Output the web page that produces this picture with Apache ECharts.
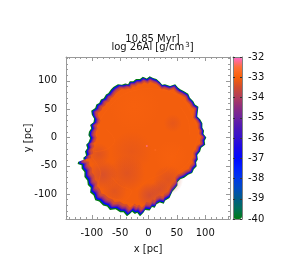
<!DOCTYPE html>
<html><head><meta charset="utf-8">
<style>html,body{margin:0;padding:0;background:#fff}#c{width:295px;height:276px}</style>
<script src="https://cdn.jsdelivr.net/npm/echarts@6/dist/echarts.min.js"></script>
</head><body><div id="c"></div>
<script>
// Data (pc, log density)
const xMajor=[-100,-50,0,50,100];
const yMajor=[-100,-50,0,50,100];
const xMinor=[-140,-130,-120,-110,-90,-80,-70,-60,-40,-30,-20,-10,10,20,30,40,60,70,80,90,110,120,130,140];
const yMinor=[-140,-130,-120,-110,-90,-80,-70,-60,-40,-30,-20,-10,10,20,30,40,60,70,80,90,110,120,130,140];
const outline=[[-106,-9],[-103,-1],[-106,4],[-105,10],[-101,16],[-103,22],[-97,27],[-96,33],[-100,40],[-101,47],[-94,52],[-92,58],[-87,61],[-84,67],[-79,69],[-75,76],[-71,78],[-66,85],[-62,89],[-54,94],[-47,93],[-41,95],[-36,94],[-33,99],[-27,99],[-22,103],[-15,103],[-10,107],[-3,104],[2,108],[8,105],[14,103],[20,98],[24,93],[29,94],[38,91],[47,94],[52,88],[56,85],[62,82],[70,77],[73,70],[79,64],[82,58],[88,54],[87,46],[86,37],[91,32],[95,25],[95,17],[98,12],[97,6],[102,0],[99,-6],[100,-13],[93,-18],[91,-25],[86,-31],[87,-39],[84,-44],[85,-51],[80,-56],[77,-63],[70,-66],[63,-71],[56,-74],[51,-79],[51,-85],[47,-90],[42,-96],[37,-107],[29,-112],[27,-117],[20,-115],[14,-118],[11,-124],[6,-123],[2,-129],[-6,-128],[-9,-133],[-15,-139],[-20,-133],[-24,-135],[-29,-131],[-33,-135],[-38,-139],[-44,-132],[-50,-132],[-58,-127],[-68,-128],[-73,-122],[-80,-120],[-87,-113],[-94,-111],[-97,-102],[-103,-97],[-102,-89],[-107,-84],[-108,-76],[-113,-70],[-113,-61],[-118,-55],[-118,-49],[-125,-47],[-124,-43],[-114,-42],[-115,-36],[-110,-32],[-112,-25],[-108,-19],[-110,-13]];
const shellValues=[-40,-37,-35.5,-34.6,-34,-33.5,-33.06];
const shellScales=[1,0.983,0.968,0.956,0.942,0.926,0.9];
const patchValues=[-33.7,-33.8,-33.5,-33.5,-33.5,-33.35,-33.45,-33.3,-33.6,-32.95,-32.95];
const patchX=[-80,2,-38,-88,35,43,-60,-30,20,-25,40];
const patchY=[-66,-102,-63,-30,-75,25,-95,-25,-92,55,-35];
const patchR=[26,22,32,20,26,16,22,36,18,45,30];
const filamentValues=[-32.9,-32.9,-32.9,-32.9,-32.95,-32.9,-32.9];
const filaments=[
 [[-92,0],[-88,25],[-72,50],[-50,72],[-20,84],[15,85],[45,78],[65,62],[78,35]],
 [[78,35],[88,8],[80,-20],[70,-45],[50,-62]],
 [[-100,-35],[-85,-60],[-88,-85],[-70,-105],[-45,-112],[-20,-122]],
 [[-95,-25],[-72,-20],[-60,-5],[-75,15]],
 [[-25,-95],[0,-75],[30,-60],[45,-40],[55,-15]],
 [[-45,-115],[-30,-95],[-50,-85],[-65,-70]],
 [[55,55],[70,30],[72,5]]
];
const spotValues=[-32.3,-32.8];
const spotX=[-3,12];
const spotY=[-15,-22];
const barColors=['#007a14','#00705a','#005c88','#004cc0','#0038e8','#0020ff','#0008ff','#1a08e8','#3410d0','#4c18b8','#6c22a0','#8c2c80','#b03c5c','#d04c30','#f86008','#ff7038','#ff68d0'];

const GREY='#999999';
const TEXT='#111';
function xAxes(){
 const make=(pos,vals,len,label)=>Object.assign({type:'value',min:-145.5,max:143.7,gridIndex:0,splitLine:{show:false},position:pos,axisLine:{show:label||pos==='top'&&len===4,onZero:false,lineStyle:{color:GREY}},axisTick:{show:true,inside:true,length:len,customValues:vals,lineStyle:{color:GREY}},axisLabel:label?{show:true,customValues:xMajor,color:TEXT,fontSize:10,fontFamily:'DejaVu Sans',margin:9}:{show:false}},label?{name:'x [pc]',nameLocation:'middle',nameGap:25,nameMoveOverlap:false,nameTextStyle:{color:TEXT,fontSize:10,fontFamily:'DejaVu Sans'}}:{});
 return [make('bottom',xMajor,4,true),make('bottom',xMinor,2,false),make('top',xMajor,4,false),make('top',xMinor,2,false)];
}
function yAxes(){
 const make=(pos,vals,len,label)=>Object.assign({type:'value',min:-144,max:142,gridIndex:0,splitLine:{show:false},position:pos,axisLine:{show:label||pos==='right'&&len===4,onZero:false,lineStyle:{color:GREY}},axisTick:{show:true,inside:true,length:len,customValues:vals,lineStyle:{color:GREY}},axisLabel:label?{show:true,customValues:yMajor,color:TEXT,fontSize:10,fontFamily:'DejaVu Sans',margin:9}:{show:false}},label?{name:'y [pc]',nameLocation:'middle',nameGap:33,nameMoveOverlap:false,nameRotate:90,nameTextStyle:{color:TEXT,fontSize:10,fontFamily:'DejaVu Sans'}}:{});
 return [make('left',yMajor,4,true),make('left',yMinor,2,false),make('right',yMajor,4,false),make('right',yMinor,2,false)];
}
const scaleCentre=[15,10];
const barAxisStyle={show:true,onZero:false,lineStyle:{color:'#808080'}};
const option={
 animation:false,
 backgroundColor:'#fff',
 textStyle:{fontFamily:'DejaVu Sans'},
 title:[
  {text:'10.85 Myr]',left:147.5,top:29,textAlign:'center',textStyle:{fontSize:10,fontWeight:'normal',color:TEXT,fontFamily:'DejaVu Sans'}},
  {text:'log 26Al [g/cm{s|3}]',left:147.5,top:37,textAlign:'center',textStyle:{fontSize:10,fontWeight:'normal',color:TEXT,fontFamily:'DejaVu Sans',rich:{s:{fontSize:7,verticalAlign:'top',color:TEXT,fontFamily:'DejaVu Sans',padding:[0,0,0,1]}}}}
 ],
 grid:[{left:66,right:65,top:57,bottom:57},{left:233,width:9,top:57,height:162}],
 xAxis:[...xAxes(),
  {type:'value',gridIndex:1,min:0,max:1,position:'bottom',z:10,axisLine:barAxisStyle,axisTick:{show:false},axisLabel:{show:false},splitLine:{show:false}},
  {type:'value',gridIndex:1,min:0,max:1,position:'top',z:10,axisLine:barAxisStyle,axisTick:{show:false},axisLabel:{show:false},splitLine:{show:false}}],
 yAxis:[...yAxes(),
  {type:'value',gridIndex:1,min:-40,max:-32,interval:1,position:'right',z:10,axisLine:barAxisStyle,axisTick:{show:true,inside:true,length:2,lineStyle:{color:'#333'}},axisLabel:{color:TEXT,fontSize:10,fontFamily:'DejaVu Sans',margin:6},splitLine:{show:false}},
  {type:'value',gridIndex:1,min:-40,max:-32,interval:1,position:'left',z:10,axisLine:barAxisStyle,axisTick:{show:true,inside:true,length:2,lineStyle:{color:'#333'}},axisLabel:{show:false},splitLine:{show:false}}],
 visualMap:{type:'continuous',min:-40,max:-32,dimension:0,seriesIndex:[0,1,2,3],left:233,top:57,itemWidth:9,itemHeight:162,padding:0,calculable:false,showLabel:false,text:null,realtime:false,z:1,inRange:{color:barColors}},
 series:[
  {type:'custom',name:'shells',xAxisIndex:0,yAxisIndex:0,encode:{x:-1,y:-1},
   data:shellValues.map((v,i)=>[v,shellScales[i]]),
   renderItem(params,api){
    const s=api.value(1);
    const pts=outline.map(p=>api.coord([scaleCentre[0]+(p[0]-scaleCentre[0])*s,scaleCentre[1]+(p[1]-scaleCentre[1])*s]));
    return {type:'polygon',shape:{points:pts},style:{fill:api.visual('color')}};
   }},
  {type:'custom',name:'patches',xAxisIndex:0,yAxisIndex:0,encode:{x:-1,y:-1},
   data:patchValues.map((v,i)=>[v,patchX[i],patchY[i],patchR[i]]),
   renderItem(params,api){
    const c=api.coord([api.value(1),api.value(2)]);
    const r=api.size([api.value(3),0])[0];
    const col=api.visual('color');
    return {type:'circle',shape:{cx:c[0],cy:c[1],r:r},style:{fill:new echarts.graphic.RadialGradient(0.5,0.5,0.5,[
      {offset:0,color:echarts.color.modifyAlpha(col,0.55)},
      {offset:0.5,color:echarts.color.modifyAlpha(col,0.3)},
      {offset:1,color:echarts.color.modifyAlpha(col,0)}])}};
   }},
  {type:'custom',name:'filaments',xAxisIndex:0,yAxisIndex:0,encode:{x:-1,y:-1},
   data:filamentValues.map((v,i)=>[v,i]),
   renderItem(params,api){
    const pts=filaments[api.value(1)].map(p=>api.coord(p));
    return {type:'polyline',shape:{points:pts,smooth:0.4},style:{fill:'none',stroke:echarts.color.modifyAlpha(api.visual('color'),0.4),lineWidth:1}};
   }},
  {type:'custom',name:'spots',xAxisIndex:0,yAxisIndex:0,encode:{x:-1,y:-1},
   data:spotValues.map((v,i)=>[v,spotX[i],spotY[i]]),
   renderItem(params,api){
    const c=api.coord([api.value(1),api.value(2)]);
    return {type:'circle',shape:{cx:c[0],cy:c[1],r:1},style:{fill:api.visual('color')}};
   }}
 ]
};
const chart=echarts.init(document.getElementById('c'),null,{renderer:'canvas'});
chart.setOption(option);
</script></body></html>
